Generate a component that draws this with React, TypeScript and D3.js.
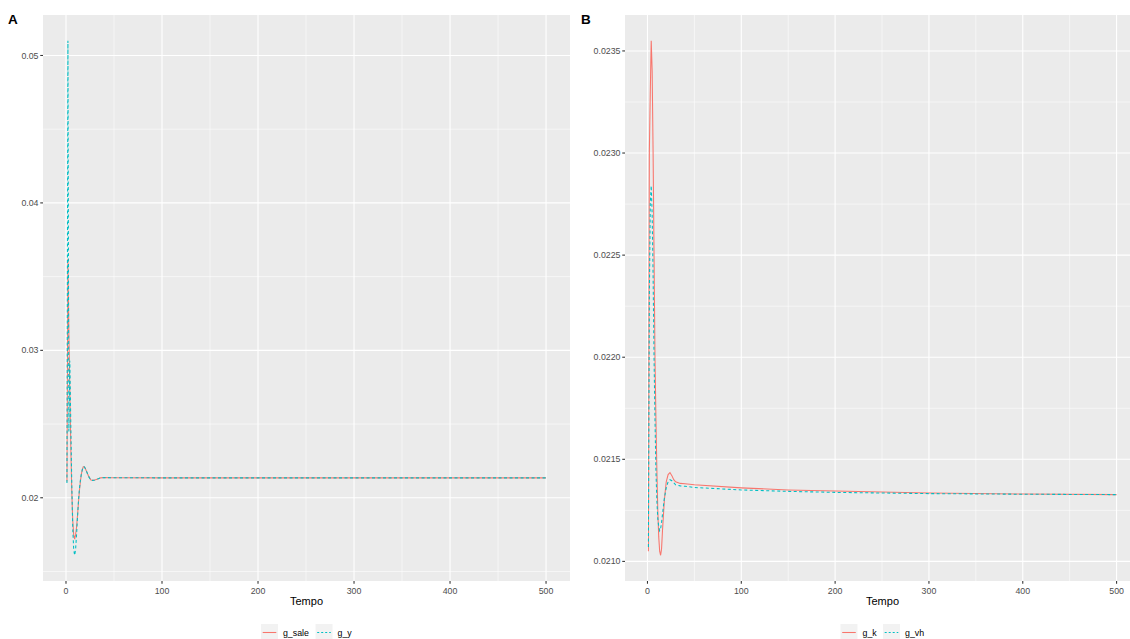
import React from "react";
import * as d3 from "d3";

const W = 1130;
const H = 639;
const RED = "#F8766D";
const CYAN = "#00BFC4";

// panel A: g_sale vs g_y
const T_A = [1, 2, 3, 4, 5, 6, 7, 8, 9, 10, 11, 12, 13, 14, 15, 16, 17, 18, 19, 20, 22, 24, 26, 28, 30, 33, 36, 40, 50, 100, 200, 300, 400, 500];
const G_SALE = [0.0211, 0.0362, 0.031, 0.0272, 0.0235, 0.0205, 0.0185, 0.0175, 0.0172, 0.0175, 0.018, 0.0188, 0.0197, 0.0205, 0.0211, 0.0216, 0.0219, 0.0221, 0.0221, 0.022, 0.0217, 0.0214, 0.0212, 0.02118, 0.0212, 0.02128, 0.02135, 0.02137, 0.02136, 0.02135, 0.02135, 0.02135, 0.02135, 0.02135];
const G_Y = [0.021, 0.051, 0.0245, 0.0293, 0.025, 0.021, 0.018, 0.0165, 0.0161, 0.0165, 0.0175, 0.0187, 0.0198, 0.0206, 0.0212, 0.0216, 0.0219, 0.0221, 0.0221, 0.022, 0.0217, 0.0214, 0.0212, 0.02118, 0.0212, 0.02128, 0.02135, 0.02137, 0.02136, 0.02135, 0.02135, 0.02135, 0.02135, 0.02135];

// panel B: g_k vs g_vh
const T_B = [1, 2, 3, 4, 5, 6, 7, 8, 9, 10, 11, 12, 13, 14, 15, 16, 18, 20, 22, 24, 26, 28, 30, 35, 40, 50, 100, 150, 200, 300, 400, 500];
const G_K = [0.02105, 0.023, 0.0233, 0.02355, 0.0234, 0.023, 0.0225, 0.022, 0.0217, 0.02145, 0.02125, 0.02112, 0.02105, 0.02103, 0.02106, 0.02115, 0.0213, 0.02139, 0.021425, 0.021435, 0.02142, 0.0214, 0.02139, 0.021382, 0.02138, 0.021375, 0.02136, 0.02135, 0.021345, 0.021335, 0.02133, 0.021327];
const G_VH = [0.02107, 0.0223, 0.02275, 0.02284, 0.0227, 0.0224, 0.022, 0.0217, 0.02145, 0.0213, 0.02121, 0.02117, 0.02115, 0.02116, 0.02119, 0.02123, 0.02131, 0.02136, 0.02139, 0.0214, 0.021395, 0.021385, 0.021375, 0.02137, 0.021368, 0.021362, 0.02135, 0.021343, 0.021338, 0.021332, 0.021329, 0.021327];

const X_MAJOR = [0, 100, 200, 300, 400, 500];
const X_MINOR = [50, 150, 250, 350, 450];
const Y_MAJOR_A = [0.02, 0.03, 0.04, 0.05];
const Y_MINOR_A = [0.015, 0.025, 0.035, 0.045];
const Y_MAJOR_B = [0.021, 0.0215, 0.022, 0.0225, 0.023, 0.0235];
const Y_MINOR_B = [0.02125, 0.02175, 0.02225, 0.02275, 0.02325];

const FONT = "'Liberation Sans', Arial, Helvetica, sans-serif";

function textWidth(s: string, size: number) {
  const c = document.createElement("canvas").getContext("2d");
  if (!c) return s.length * size * 0.5;
  c.font = `${size}px ${FONT}`;
  return c.measureText(s).width;
}

function expand(ext: [number, number]): [number, number] {
  const pad = (ext[1] - ext[0]) * 0.05;
  return [ext[0] - pad, ext[1] + pad];
}

type PanelProps = {
  id: string;
  title: string;
  titleX: number;
  left: number;
  right: number;
  t: number[];
  s1: number[];
  s2: number[];
  names: [string, string];
  yMajor: number[];
  yMinor: number[];
  yFmt: (v: number) => string;
};

function Panel(p: PanelProps) {
  const top = 15;
  const bottom = 581;
  const x = d3.scaleLinear().domain(expand(d3.extent(p.t) as [number, number])).range([p.left, p.right]);
  const all = p.s1.concat(p.s2);
  const y = d3.scaleLinear().domain(expand(d3.extent(all) as [number, number])).range([bottom, top]);
  const line = d3
    .line<number>()
    .x((_, i) => x(p.t[i]))
    .y((d) => y(d));
  const cx = (p.left + p.right) / 2;

  // legend layout
  const w1 = textWidth(p.names[0], 9);
  const w2 = textWidth(p.names[1], 9);
  const total = 17 + 5 + w1 + 6 + 17 + 5 + w2;
  const lx = cx - total / 2;
  const k2 = lx + 17 + 5 + w1 + 6;
  const ly = 624;

  return (
    <g>
      <defs>
        <clipPath id={`clip-${p.id}`}>
          <rect x={p.left} y={top} width={p.right - p.left} height={bottom - top} />
        </clipPath>
      </defs>
      <text x={p.titleX} y={24} fontSize={13.5} fontWeight="bold" fontFamily={FONT} fill="#000">
        {p.title}
      </text>
      <rect x={p.left} y={top} width={p.right - p.left} height={bottom - top} fill="#EBEBEB" />
      {p.yMinor.map((v) => (
        <line key={`ym${v}`} x1={p.left} x2={p.right} y1={y(v)} y2={y(v)} stroke="#fff" strokeWidth={0.55} />
      ))}
      {X_MINOR.map((v) => (
        <line key={`xm${v}`} x1={x(v)} x2={x(v)} y1={top} y2={bottom} stroke="#fff" strokeWidth={0.55} />
      ))}
      {p.yMajor.map((v) => (
        <line key={`yM${v}`} x1={p.left} x2={p.right} y1={y(v)} y2={y(v)} stroke="#fff" strokeWidth={1.1} />
      ))}
      {X_MAJOR.map((v) => (
        <line key={`xM${v}`} x1={x(v)} x2={x(v)} y1={top} y2={bottom} stroke="#fff" strokeWidth={1.1} />
      ))}
      <g clipPath={`url(#clip-${p.id})`}>
        <path d={line(p.s1) || ""} fill="none" stroke={RED} strokeWidth={1.07} />
        <path d={line(p.s2) || ""} fill="none" stroke={CYAN} strokeWidth={1.07} strokeDasharray="3,2.5" />
      </g>
      {p.yMajor.map((v) => (
        <g key={`yt${v}`}>
          <line x1={p.left - 2.75} x2={p.left} y1={y(v)} y2={y(v)} stroke="#333" strokeWidth={1.07} />
          <text x={p.left - 4.5} y={y(v)} dy="0.35em" textAnchor="end" fontSize={8.8} fontFamily={FONT} fill="#4D4D4D">
            {p.yFmt(v)}
          </text>
        </g>
      ))}
      {X_MAJOR.map((v) => (
        <g key={`xt${v}`}>
          <line x1={x(v)} x2={x(v)} y1={bottom} y2={bottom + 2.75} stroke="#333" strokeWidth={1.07} />
          <text x={x(v)} y={bottom + 13} textAnchor="middle" fontSize={8.8} fontFamily={FONT} fill="#4D4D4D">
            {v}
          </text>
        </g>
      ))}
      <text x={cx} y={605} textAnchor="middle" fontSize={11} fontFamily={FONT} fill="#000">
        Tempo
      </text>
      {/* legend */}
      <rect x={lx} y={ly} width={17} height={17} fill="#F2F2F2" />
      <line x1={lx + 1.7} x2={lx + 15.3} y1={ly + 8.5} y2={ly + 8.5} stroke={RED} strokeWidth={1.07} />
      <text x={lx + 22} y={ly + 8.5} dy="0.35em" fontSize={8.8} fontFamily={FONT} fill="#000">
        {p.names[0]}
      </text>
      <rect x={k2} y={ly} width={17} height={17} fill="#F2F2F2" />
      <line x1={k2 + 1.7} x2={k2 + 15.3} y1={ly + 8.5} y2={ly + 8.5} stroke={CYAN} strokeWidth={1.07} strokeDasharray="2,2" />
      <text x={k2 + 22} y={ly + 8.5} dy="0.35em" fontSize={8.8} fontFamily={FONT} fill="#000">
        {p.names[1]}
      </text>
    </g>
  );
}

export default function App() {
  return (
    <svg
      width={W}
      height={H}
      style={{ position: "absolute", left: 0, top: 0, background: "#fff", overflow: "hidden" }}
    >
      <rect width={W} height={H} fill="#fff" />
      <Panel
        id="a"
        title="A"
        titleX={8}
        left={43}
        right={570}
        t={T_A}
        s1={G_SALE}
        s2={G_Y}
        names={["g_sale", "g_y"]}
        yMajor={Y_MAJOR_A}
        yMinor={Y_MINOR_A}
        yFmt={d3.format(".2f")}
      />
      <Panel
        id="b"
        title="B"
        titleX={581}
        left={625}
        right={1140}
        t={T_B}
        s1={G_K}
        s2={G_VH}
        names={["g_k", "g_vh"]}
        yMajor={Y_MAJOR_B}
        yMinor={Y_MINOR_B}
        yFmt={d3.format(".4f")}
      />
    </svg>
  );
}
